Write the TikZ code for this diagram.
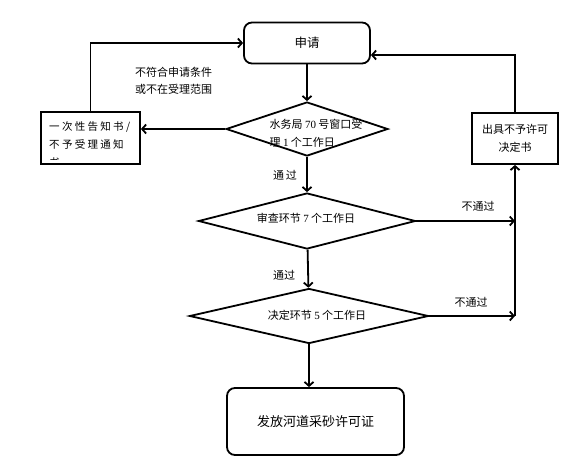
\documentclass[tikz,border=0pt]{standalone}
\usepackage{fontspec}
\setmainfont{Noto Sans CJK SC}
\newfontfamily\numfont{Liberation Serif}
\newfontfamily\widecjk[LetterSpace=22]{Noto Sans CJK SC}
\usetikzlibrary{arrows.meta,shapes.geometric,positioning}

\tikzset{
  box/.style={draw, line width=1.8pt, inner sep=0pt, align=center,
              font=\fontsize{11}{18}\selectfont},
  rbox/.style={box, rounded corners=8pt},
  dia/.style={draw, diamond, line width=1.8pt, inner sep=0pt},
  arr/.style={line width=1.8pt, -{Straight Barb[length=4pt,width=9pt]}},
  lbl/.style={inner sep=0pt, align=left, font=\fontsize{11}{17}\selectfont}
}

\begin{document}
\begin{tikzpicture}[x=1pt,y=-1pt]
  \useasboundingbox (0,0) rectangle (576,467);

  % boxes and decisions
  \node[rbox, minimum width=126pt, minimum height=41pt] (apply) at (307,43)
    {\fontsize{12.5}{14}\selectfont 申请};
  \node[dia, minimum width=162pt, minimum height=54pt] (d1) at (307,129) {};
  \node[lbl, font=\fontsize{11}{18}\selectfont] (d1t) at (316,133)
    {水务局 {\numfont 70} 号窗口受\\理 {\numfont 1} 个工作日};
  \node[dia, minimum width=217pt, minimum height=56pt] (d2) at (307,221) {};
  \node[lbl] (d2t) at (306,218) {审查环节 {\numfont 7} 个工作日};
  \node[dia, minimum width=239pt, minimum height=55pt] (d3) at (309,316) {};
  \node[lbl] (d3t) at (317,315) {决定环节 {\numfont 5} 个工作日};
  \node[rbox, minimum width=177pt, minimum height=67pt] (permit) at (315.5,421.5)
    {\fontsize{13}{14}\selectfont 发放河道采砂许可证};
  \node[box, minimum width=86pt, minimum height=51pt] (refuse) at (515,138.5)
    {出具不予许可\\决定书};
  \node[box, minimum width=99pt, minimum height=52pt] (notice) at (90.5,138) {};
  \begin{scope}
    \clip ([yshift=5pt]notice.south west) rectangle (notice.north east);
    \node[lbl, anchor=north west, font=\fontsize{10.5}{18}\selectfont\widecjk] (noticet)
      at (49,121) {一次性告知书/\\不予受理通知\\书};
  \end{scope}

  % connectors
  \draw[arr] (apply) -- (d1);
  \draw[arr] (d1) -- (d2);
  \draw[arr] (d2) -- (d3);
  \draw[arr] (d3.south) -- (d3.south |- permit.north);
  \draw[arr] (d1.west) -- (d1.west -| notice.east);
  \draw[arr] (notice.north) |- (apply.west);
  \draw[arr] (refuse.north) |- ([yshift=-12pt]apply.east);
  \coordinate (join) at (d3.east -| refuse.south);
  \draw[arr] (d2.east) -- (d2.east -| refuse.south);
  \draw[arr] (d3.east) -- (join);
  \draw[arr] (join) -- (refuse.south);

  % labels
  \node[lbl, anchor=west] (cond) at (135,80.5) {不符合申请条件\\或不在受理范围};
  \node[lbl] (pass1) at (285,175) {通\,过};
  \node[lbl] (pass2) at (284,275) {通过};
  \node[lbl] (fail1) at (478,206) {不通过};
  \node[lbl] (fail2) at (471,302) {不通过};
\end{tikzpicture}
\end{document}
